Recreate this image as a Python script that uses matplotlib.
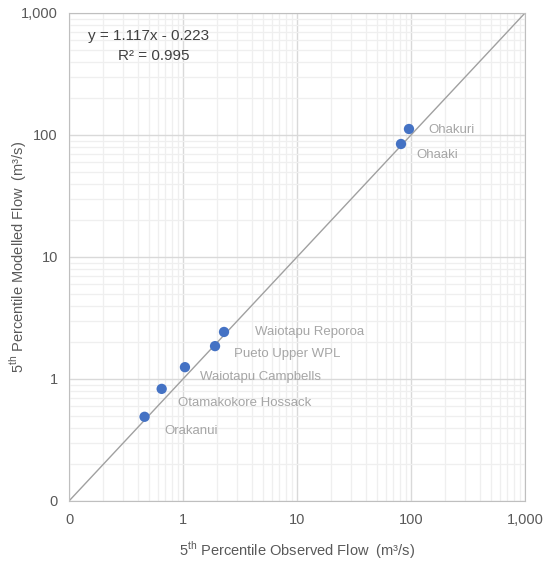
import matplotlib
matplotlib.use('Agg')
import matplotlib.pyplot as plt
import numpy as np
from matplotlib.ticker import FuncFormatter, LogLocator

plt.rcParams['font.family'] = ['Liberation Sans', 'DejaVu Sans']
plt.rcParams['mathtext.fontset'] = 'custom'
plt.rcParams['mathtext.rm'] = 'Liberation Sans'

sites = ['Orakanui', 'Otamakokore Hossack', 'Waiotapu Campbells', 'Pueto Upper WPL',
         'Waiotapu Reporoa', 'Ohaaki', 'Ohakuri']
observed = [0.46, 0.65, 1.04, 1.91, 2.29, 81.7, 96.0]
modelled = [0.49, 0.83, 1.25, 1.86, 2.43, 84.4, 112.0]
label_offsets = [(14, -10), (12, -10), (11, -7), (14, -6), (22, 0), (11, -8), (14, -1)]

fig = plt.figure(figsize=(5.51, 5.70), dpi=100)
ax = fig.add_axes([69 / 551, 69 / 570, 456 / 551, 488 / 570])

ax.set_xscale('log')
ax.set_yscale('log')
ax.set_xlim(0.1, 1000)
ax.set_ylim(0.1, 1000)

ax.xaxis.set_minor_locator(LogLocator(base=10, subs=np.arange(2, 10)))
ax.yaxis.set_minor_locator(LogLocator(base=10, subs=np.arange(2, 10)))
ax.grid(True, which='major', color='#d9d9d9', lw=1.0)
ax.grid(True, which='minor', color='#efefef', lw=0.9)
ax.set_axisbelow(True)

# 1:1 line
ax.plot([0.1, 1000], [0.1, 1000], color='#a0a0a0', lw=1.0, zorder=2)

ax.scatter(observed, modelled, s=55, color='#4472C4', zorder=3, edgecolors='none')

for name, x, y, off in zip(sites, observed, modelled, label_offsets):
    ax.annotate(name, (x, y), xytext=off, textcoords='offset points',
                fontsize=9.5, color='#a6a6a6', va='center', ha='left')

def fmt(v, pos):
    if v < 0.5:
        return '0'
    return '{:,.0f}'.format(v)

ax.xaxis.set_major_formatter(FuncFormatter(fmt))
ax.yaxis.set_major_formatter(FuncFormatter(fmt))
ax.tick_params(which='both', length=0, colors='#595959', labelsize=10.5)
ax.tick_params(axis='x', pad=9)
ax.tick_params(axis='y', pad=8)

for s in ax.spines.values():
    s.set_color('#bfbfbf')

ax.set_xlabel(r'5$^{\mathrm{th}}$ Percentile Observed Flow  (m³/s)', color='#595959',
              fontsize=10.5, va='center')
ax.set_ylabel(r'5$^{\mathrm{th}}$ Percentile Modelled Flow  (m³/s)', color='#595959',
              fontsize=10.5, va='center')
ax.xaxis.set_label_coords(0.5, -0.1)
ax.yaxis.set_label_coords(-0.111, 0.5)

ax.text(0.042, 0.967, 'y = 1.117x - 0.223', transform=ax.transAxes, fontsize=11,
        color='#404040', va='top', ha='left')
ax.text(0.107, 0.927, 'R² = 0.995', transform=ax.transAxes, fontsize=11,
        color='#404040', va='top', ha='left')

fig.savefig('out.png', dpi=100)
